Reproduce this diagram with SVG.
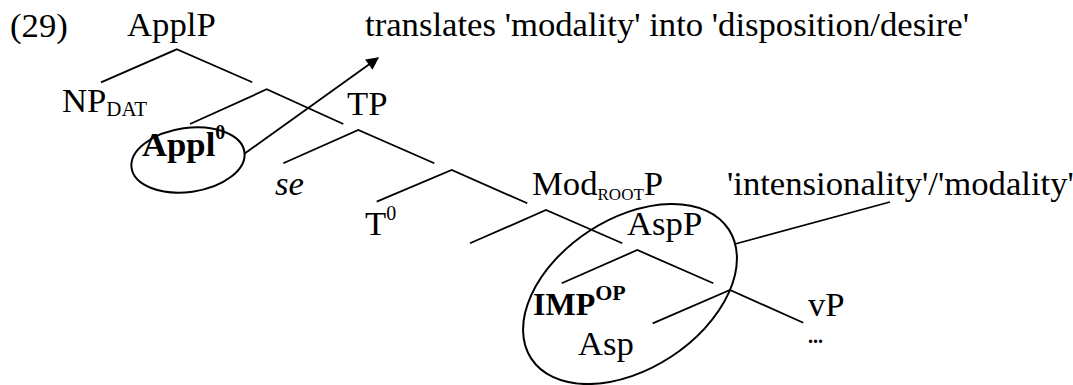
<svg xmlns="http://www.w3.org/2000/svg" width="1073" height="385" viewBox="0 0 1073 385">
<style>
text{font-family:"Liberation Serif","Times New Roman","DejaVu Serif",serif;font-size:34.7px;fill:#000}
.b{font-weight:bold}
.i{font-style:italic}
.e{fill:none;stroke:#000;stroke-width:2}
.l{stroke:#000;stroke-width:1.8;fill:none}
</style>
<defs>
<marker id="ah" viewBox="0 0 10 10" refX="9" refY="5" markerWidth="8.5" markerHeight="7" markerUnits="strokeWidth" orient="auto">
<path d="M0,0 L10,5 L0,10 z" fill="#000"/>
</marker>
</defs>
<rect width="1073" height="385" fill="#fff"/>
<g id="connectors">
<path class="l" d="M101,82.3 L176.7,49.3 L252.3,82.3"/>
<path class="l" d="M190,124 L266.7,89.3 L343.3,124"/>
<path class="l" d="M283.3,163.3 L358.3,130 L434.3,163.3"/>
<path class="l" d="M376.7,201.7 L451.7,170 L527.3,203.3"/>
<path class="l" d="M470,243.3 L546,210 L622.3,243.3"/>
<path class="l" d="M561.7,283.3 L637.3,250 L713.3,283.3"/>
<path class="l" d="M652.7,323.3 L730,290 L803.3,322.7"/>
<path class="l" d="M735,244 L890,202"/>
<path class="l" d="M244,154 L378,58" marker-end="url(#ah)"/>
</g>
<g font-family="Liberation Serif, Times New Roman, serif">
<g id="label29"><text x="10" y="37">(29)</text></g>
<g id="ApplP"><text x="127" y="36">ApplP</text></g>
<g id="note-translates"><text x="365" y="36">translates 'modality' into 'disposition/desire'</text></g>
<g id="NPDAT"><text x="62" y="112">NP<tspan font-size="21" dy="4">DAT</tspan></text></g>
<g id="Appl0">
<ellipse class="e" cx="188" cy="160" rx="57" ry="32" transform="rotate(-8 188 160)"/>
<text class="b" x="142" y="156">Appl<tspan font-size="20" dy="-17">0</tspan></text>
</g>
<g id="TP"><text x="347" y="115">TP</text></g>
<g id="se"><text class="i" x="275" y="195">se</text></g>
<g id="T0"><text x="365" y="235">T<tspan font-size="20" dy="-15">0</tspan></text></g>
<g id="ModRootP"><text x="532" y="195">Mod<tspan font-size="17" dy="5">ROOT</tspan><tspan dy="-5">P</tspan></text></g>
<g id="note-intensionality"><text x="727" y="195">'intensionality'/'modality'</text></g>
<g id="AspP">
<ellipse class="e" cx="630" cy="294" rx="118" ry="75" transform="rotate(-33.2 630 294)"/>
<text x="627" y="235">AspP</text>
</g>
<g id="IMPOP"><text class="b" x="533" y="315" style="font-size:32px">IMP<tspan style="font-size:22px" dy="-15">OP</tspan></text></g>
<g id="Asp"><text x="578" y="355">Asp</text></g>
<g id="vP">
<text x="808" y="316">vP</text>
<text class="b" x="808" y="343" style="font-size:20px">...</text>
</g>
</g>
</svg>
